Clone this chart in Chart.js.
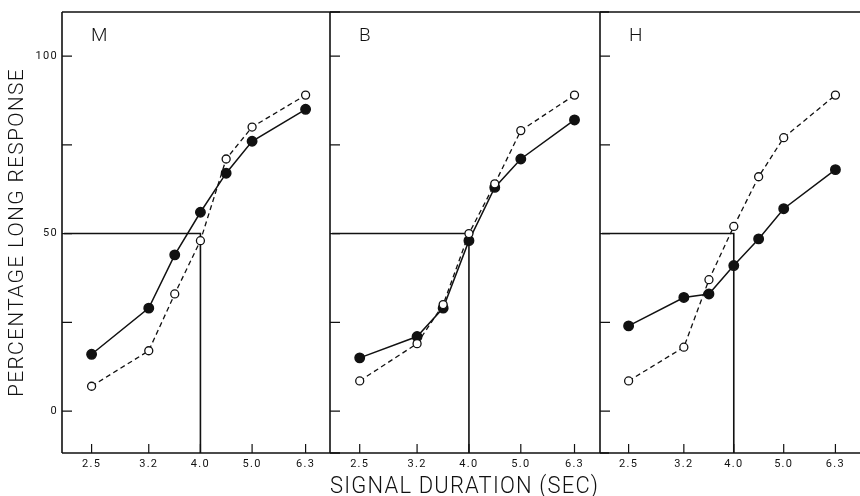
<!DOCTYPE html>
<html>
<head>
<meta charset="utf-8">
<script src="https://cdn.jsdelivr.net/npm/chart.js@4.4.1/dist/chart.umd.min.js"></script>
<style>
  body { margin: 0; background: #fff; }
  #wrap { position: relative; width: 860px; height: 496px; overflow: hidden; }
  .panel { position: absolute; top: 0; height: 496px; }
</style>
</head>
<body>
<div id="wrap">
  <div class="panel" style="left:0;width:340px"><canvas id="c1"></canvas></div>
  <div class="panel" style="left:320px;width:289px"><canvas id="c2"></canvas></div>
  <div class="panel" style="left:590px;width:279px"><canvas id="c3"></canvas></div>
</div>
<script>
// signal durations (sec) and axis ticks
var durations = [2.5, 3.2, 3.58, 4.0, 4.47, 5.0, 6.3];
var xTicks = [2.5, 3.2, 4.0, 5.0, 6.3];
var yTicks = [0, 25, 50, 75, 100];
var yLabels = [0, 50, 100];
var panelNames = ["M", "B", "H"];

// percentage long response, filled (solid) and open (dashed) circles
var filledM = [16, 29, 44, 56, 67, 76, 85];
var openM   = [7, 17, 33, 48, 71, 80, 89];
var filledB = [15, 21, 29, 48, 63, 71, 82];
var openB   = [8.5, 19, 30, 50, 64, 79, 89];
var filledH = [24, 32, 33, 41, 48.5, 57, 68];
var openH   = [8.5, 18, 37, 52, 66, 77, 89];

// bisection point
var criterion = 4.0;
var halfPoint = 50;

var xMin = 2.22, xMax = 7.0, yMin = -11.8, yMax = 112.4;
var ink = "#111";
var face = "Roboto, 'DejaVu Sans', sans-serif";

function pts(vals) {
    return vals.map(function(v, i) { return {x: durations[i], y: v}; });
}

var framePlugin = {
    id: "frame",
    beforeDraw: function(chart) {
        chart.ctx.letterSpacing = "1.3px";
    },
    afterDatasetsDraw: function(chart, args, opts) {
        var ctx = chart.ctx, a = chart.chartArea;
        var xs = chart.scales.x, ys = chart.scales.y;
        ctx.save();
        ctx.strokeStyle = ink;
        ctx.lineWidth = 1.6;
        ctx.beginPath();
        ctx.moveTo(a.left, a.top); ctx.lineTo(a.right + 20, a.top);
        ctx.moveTo(a.left, a.top); ctx.lineTo(a.left, a.bottom);
        ctx.moveTo(a.left, a.bottom); ctx.lineTo(a.right + 20, a.bottom);
        ctx.stroke();
        ctx.lineWidth = 1.2;
        ctx.beginPath();
        yTicks.forEach(function(v) {
            var y = ys.getPixelForValue(v);
            ctx.moveTo(a.left, y); ctx.lineTo(a.left + 10, y);
        });
        xTicks.forEach(function(v) {
            var x = xs.getPixelForValue(v);
            ctx.moveTo(x, a.bottom); ctx.lineTo(x, a.bottom - 9);
        });
        ctx.stroke();
        ctx.fillStyle = ink;
        ctx.font = "300 19px " + face;
        ctx.textBaseline = "middle";
        ctx.fillText(opts.name, a.left + 29, a.top + 24);
        ctx.restore();
    }
};

function makePanel(id, name, filled, open, first, middle) {
    new Chart(document.getElementById(id), {
        type: "line",
        data: {
            datasets: [{
                data: pts(open),
                borderColor: ink,
                borderWidth: 1.3,
                borderDash: [5, 3.5],
                pointRadius: 4,
                pointBorderWidth: 1.3,
                pointBackgroundColor: "#fff",
                pointBorderColor: ink
            }, {
                data: pts(filled),
                borderColor: ink,
                borderWidth: 1.5,
                pointRadius: 4.7,
                pointBackgroundColor: ink,
                pointBorderColor: ink
            }, {
                data: [{x: xMin, y: halfPoint}, {x: criterion, y: halfPoint}, {x: criterion, y: yMin}],
                borderColor: ink,
                borderWidth: 1.6,
                pointRadius: 0
            }]
        },
        options: {
            animation: false,
            responsive: true,
            maintainAspectRatio: false,
            layout: {padding: {top: 12, left: first ? 0 : 10, right: 10, bottom: 0}},
            plugins: {legend: {display: false}, tooltip: {enabled: false}, frame: {name: name}},
            scales: {
                x: {
                    type: "logarithmic",
                    min: xMin, max: xMax,
                    grid: {display: false, drawTicks: false},
                    border: {display: false},
                    afterBuildTicks: function(s) { s.ticks = xTicks.map(function(v) { return {value: v}; }); },
                    afterFit: function(s) { s.height = 43; },
                    ticks: {
                        autoSkip: false, maxRotation: 0, padding: 5, color: ink,
                        font: {family: face, size: 11},
                        callback: function(v) { return Number(v).toFixed(1); }
                    },
                    title: {
                        display: middle, text: "SIGNAL DURATION (SEC)", color: ink,
                        padding: 0,
                        font: {family: face, size: 24, weight: 300, lineHeight: 0.75}
                    }
                },
                y: {
                    display: first,
                    min: yMin, max: yMax,
                    grid: {display: false, drawTicks: false},
                    border: {display: false},
                    afterBuildTicks: function(s) { s.ticks = yLabels.map(function(v) { return {value: v}; }); },
                    afterFit: function(s) { s.width = first ? 62 : 0; },
                    ticks: {
                        padding: 4, color: ink,
                        font: {family: face, size: 11}
                    },
                    title: {
                        display: true, text: "PERCENTAGE LONG RESPONSE", color: ink,
                        padding: {top: 7, bottom: 0},
                        font: {family: face, size: 21, weight: 300, lineHeight: 1}
                    }
                }
            }
        },
        plugins: [framePlugin]
    });
}

makePanel("c1", panelNames[0], filledM, openM, true, false);
makePanel("c2", panelNames[1], filledB, openB, false, true);
makePanel("c3", panelNames[2], filledH, openH, false, false);
</script>
</body>
</html>
